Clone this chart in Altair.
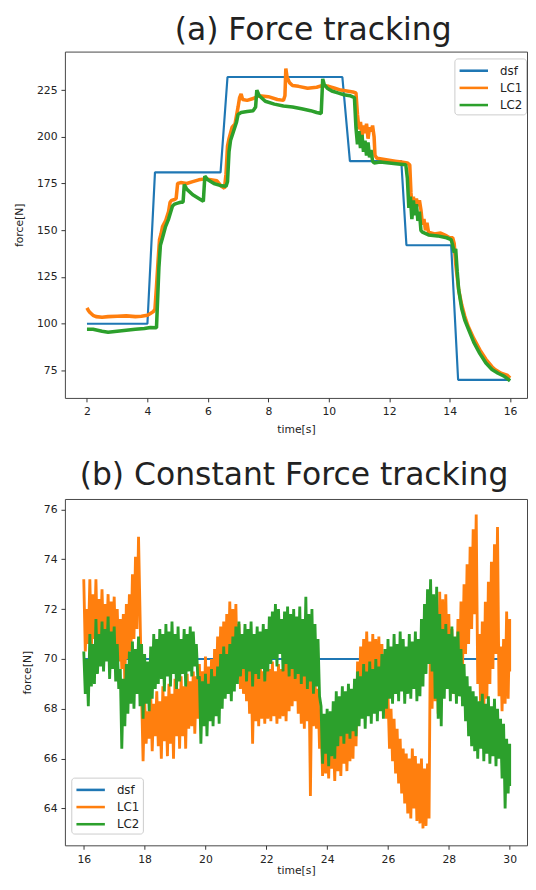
import altair as alt
import pandas as pd

# ---------------- (a) Force tracking ----------------
a_dsf_t = [2.0, 4.0, 4.25, 6.42, 6.65, 10.45, 10.7, 12.4, 12.57, 14.05, 14.28, 16.0]
a_dsf_f = [100, 100, 181, 181, 232, 232, 187, 187, 142, 142, 70, 70]

a_lc1_t = [2.0, 2.05, 2.1, 2.2, 2.3, 2.5, 2.7, 3.0, 3.3, 3.6, 3.8, 4.0, 4.1, 4.2, 4.25, 4.3,
           4.35, 4.4, 4.45, 4.5, 4.6, 4.7, 4.75, 4.8, 4.9, 4.95, 5.0, 5.1, 5.3, 5.5, 5.7, 5.9,
           6.1, 6.3, 6.45, 6.55, 6.6, 6.65, 6.7, 6.8, 6.9, 7.0, 7.05, 7.1, 7.15, 7.3, 7.5, 7.7,
           8.0, 8.3, 8.5, 8.55, 8.58, 8.62, 8.7, 8.8, 9.0, 9.3, 9.6, 9.8, 10.0, 10.2, 10.4, 10.6,
           10.8, 10.9, 10.95, 11.0, 11.05, 11.1, 11.15, 11.2, 11.25, 11.3, 11.35, 11.4, 11.45,
           11.5, 11.53, 11.6, 11.8, 12.0, 12.2, 12.4, 12.6, 12.68, 12.72, 12.76, 12.8, 12.85,
           12.9, 12.95, 13.0, 13.05, 13.1, 13.15, 13.2, 13.25, 13.3, 13.5, 13.7, 13.9, 14.0,
           14.1, 14.15, 14.2, 14.3, 14.4, 14.5, 14.6, 14.8, 15.0, 15.2, 15.4, 15.5, 15.7, 15.9, 16.0]
a_lc1_f = [108.5, 107, 106, 104.5, 103.8, 103.5, 103.8, 104, 104.2, 103.8, 104, 104.5, 105.5, 106.5, 108, 120,
           133, 145, 148, 152, 155, 160, 165, 166, 166.5, 167, 175, 175.5, 175, 176, 177, 177.5,
           177, 176.5, 173.5, 172.5, 180, 195, 199, 205, 207, 216, 221, 223, 220, 219.5, 220.5, 222,
           221.5, 220, 219.5, 222, 236.5, 232, 229, 227.5, 227, 226, 226.5, 227.5, 227, 226, 225, 224.5,
           224, 223.5, 212, 204, 208, 200, 206, 202, 207, 199, 205, 203, 206,
           200, 190, 188.5, 188, 187.5, 187, 186.5, 186, 185, 170, 162, 168, 160,
           167, 163, 166, 161, 153, 156, 150, 154, 149, 148, 148.5, 147, 146,
           146, 143, 132, 118, 110, 104, 99, 92, 86, 81, 77, 75.5, 73.5, 72.5, 71]

a_lc2_t = [2.0, 2.2, 2.5, 2.7, 3.0, 3.3, 3.6, 3.9, 4.1, 4.3, 4.33, 4.38, 4.43, 4.5, 4.6, 4.7,
           4.83, 4.9, 5.0, 5.1, 5.18, 5.22, 5.3, 5.5, 5.7, 5.85, 5.9, 6.0, 6.2, 6.4, 6.6, 6.65,
           6.7, 6.75, 6.85, 6.95, 7.0, 7.1, 7.3, 7.5, 7.58, 7.62, 7.7, 7.9, 8.2, 8.5, 8.8, 9.1,
           9.4, 9.6, 9.75, 9.8, 9.85, 9.95, 10.1, 10.3, 10.5, 10.7, 10.85, 10.9, 10.95, 11.0,
           11.05, 11.1, 11.15, 11.2, 11.25, 11.3, 11.35, 11.4, 11.45, 11.5, 11.7, 12.0, 12.3,
           12.55, 12.6, 12.65, 12.7, 12.75, 12.8, 12.85, 12.9, 12.95, 13.0, 13.05, 13.1, 13.3,
           13.6, 13.9, 14.05, 14.1, 14.15, 14.2, 14.25, 14.3, 14.4, 14.5, 14.6, 14.8, 15.0,
           15.2, 15.4, 15.6, 15.8, 16.0]
a_lc2_f = [97, 97, 96, 95.5, 96, 96.5, 97, 97.5, 98, 97.8, 110, 130, 142, 146, 152, 156,
           163, 164, 164.5, 165, 165, 174.5, 172, 169, 167, 165.5, 179, 177, 175, 174, 173.5, 176,
           192, 198, 203, 208, 212, 213, 213.5, 214, 216, 225, 222, 219, 217.5, 216.5, 216, 215,
           214, 213, 212.5, 231, 228, 226, 224.5, 223.5, 222.5, 222, 221, 205, 196, 203,
           194, 201, 192, 198, 190, 197, 189, 193, 187, 186, 186.5, 186, 185.5,
           185, 178, 162, 168, 156, 166, 158, 164, 155, 160, 150, 149, 147.5,
           147, 146, 145, 142, 138, 140, 128, 118, 108, 102, 98, 90, 84,
           79, 75.5, 73.5, 72, 69.5]

# ---------------- (b) Constant Force tracking ----------------
b_dsf_t = [16.0, 30.0]
b_dsf_f = [70, 70]
b_t = [round(16.0 + 0.1 * i, 2) for i in range(141)]
b_lc1_hi = [73.2, 72.0, 73.2, 72.6, 73.2, 72.4, 72.8, 72.2, 72.6, 72.3,
            72.5, 72.0, 71.6, 71.8, 72.2, 72.6, 73.4, 74.1, 74.9, 68.6,
            68.4, 67.9, 68.6, 68.2, 68.7, 68.3, 68.9, 68.5, 69.0, 68.6,
            69.2, 68.8, 69.3, 68.9, 69.4, 69.1, 69.5, 69.3, 69.8, 69.5,
            70.1, 69.7, 70.0, 70.4, 70.9, 71.3, 71.5, 71.8, 72.3, 72.0,
            72.2, 71.4, 71.0, 70.6, 70.2, 70.0, 69.8, 69.6, 69.9, 69.5,
            69.8, 69.6, 69.9, 69.5, 69.8, 69.6, 69.9, 70.2, 70.4, 70.6,
            70.5, 70.2, 69.9, 70.3, 69.8, 69.8, 69.2, 68.8, 67.5, 67.3,
            67.0, 67.4, 67.1, 67.5, 67.2, 67.6, 67.3, 67.8, 68.2, 69.0,
            69.9, 70.5, 70.8, 71.1, 70.7, 71.0, 70.8, 70.9, 70.6, 69.8,
            68.5, 68.0, 67.6, 67.2, 66.8, 66.4, 66.2, 66.0, 66.4, 66.1,
            65.8, 66.0, 65.6, 65.8, 72.2, 72.0, 71.6, 72.7, 72.4, 72.6,
            71.8, 71.2, 70.8, 71.6, 72.3, 73.0, 73.8, 74.5, 75.2, 75.8,
            71.0, 71.5, 72.3, 73.1, 73.9, 74.6, 75.3, 70.5, 70.8, 71.9,
            71.6]
b_lc1_lo = [70.3, 70.6, 70.4, 70.8, 70.5, 70.9, 70.6, 70.8, 70.4, 70.7,
            70.2, 69.9, 69.6, 69.0, 70.0, 70.3, 70.8, 71.2, 71.8, 65.9,
            66.6, 66.8, 66.3, 66.9, 66.5, 66.0, 66.7, 66.1, 66.6, 66.0,
            66.9, 66.4, 66.9, 66.4, 67.2, 67.3, 67.0, 67.6, 67.4, 67.8,
            67.6, 68.0, 67.7, 68.3, 68.8, 69.2, 69.0, 69.5, 69.3, 69.6,
            69.2, 68.8, 68.6, 68.3, 67.8, 66.6, 67.5, 67.3, 67.6, 67.4,
            67.6, 67.5, 67.7, 67.4, 67.6, 67.7, 67.5, 67.9, 68.1, 68.3,
            67.8, 67.4, 67.2, 67.5, 64.5, 67.3, 67.2, 66.4, 65.3, 65.4,
            65.2, 65.6, 65.1, 65.5, 65.3, 65.8, 65.5, 65.9, 66.0, 66.5,
            67.8, 68.2, 68.5, 68.7, 68.4, 68.6, 68.3, 68.5, 68.2, 67.6,
            66.4, 65.9, 65.4, 65.0, 64.6, 64.2, 63.8, 63.6, 64.0, 63.5,
            63.4, 63.2, 63.3, 63.6, 68.0, 68.3, 67.8, 68.5, 68.8, 69.3,
            68.9, 68.6, 68.4, 69.0, 69.6, 70.2, 70.6, 71.2, 71.8, 69.0,
            67.6, 67.8, 68.4, 69.0, 69.6, 70.2, 68.5, 67.9, 68.2, 68.4,
            69.5]
b_lc2_hi = [70.3, 70.0, 71.0, 70.6, 71.6, 71.0, 71.5, 71.2, 71.7, 71.1,
            71.3, 70.6, 69.6, 69.2, 69.8, 70.3, 70.7, 70.4, 70.9, 70.6,
            70.2, 69.9, 70.5, 71.0, 70.8, 71.2, 71.0, 71.4, 71.1, 71.5,
            71.0, 71.3, 70.8, 71.2, 71.0, 71.3, 71.1, 70.6, 69.3, 69.1,
            69.4, 69.0, 69.6, 69.3, 69.7, 70.2, 70.5, 70.2, 70.6, 70.9,
            71.3, 71.5, 71.0, 71.4, 71.2, 71.5, 71.0, 71.3, 71.1, 71.4,
            71.2, 71.7, 71.9, 72.2, 72.0, 71.6, 71.9, 72.1, 71.8, 72.0,
            71.7, 72.1, 71.6, 72.5, 71.8, 72.0, 71.4, 70.8, 68.1, 67.8,
            68.0, 67.9, 68.3, 68.7, 68.5, 68.9, 68.7, 69.0, 68.8, 69.2,
            69.5, 69.3, 69.8, 69.5, 69.9, 69.6, 70.0, 69.7, 70.2, 70.4,
            70.8, 70.5, 71.0, 70.6, 71.1, 70.8, 70.5, 71.0, 70.7, 71.1,
            70.8, 71.6, 72.2, 72.8, 73.2, 72.6, 72.9, 71.8, 71.2, 71.4,
            71.0, 71.3, 70.9, 71.1, 70.4, 69.8, 69.3, 68.9, 68.7, 68.5,
            68.3, 68.6, 68.2, 68.5, 68.1, 68.4, 68.0, 67.6, 67.4, 66.8,
            66.6]
b_lc2_lo = [68.6, 68.1, 68.9, 69.0, 69.4, 69.7, 69.5, 69.9, 69.2, 69.6,
            69.1, 68.8, 66.4, 67.3, 67.8, 68.2, 68.0, 68.6, 68.1, 67.6,
            68.2, 67.9, 68.4, 68.8, 69.0, 69.2, 68.7, 69.3, 68.9, 69.4,
            68.8, 69.1, 69.4, 68.9, 69.5, 69.3, 69.7, 69.2, 66.6, 67.3,
            66.9, 67.5, 67.3, 67.7, 67.4, 68.0, 68.4, 68.6, 68.3, 68.7,
            69.0, 69.3, 69.6, 69.1, 69.5, 68.9, 69.4, 69.2, 69.6, 69.1,
            69.5, 69.8, 70.0, 69.7, 70.2, 69.5, 69.8, 69.3, 69.6, 69.2,
            69.4, 69.0, 69.3, 68.8, 69.1, 68.6, 68.9, 68.5, 65.8, 66.2,
            65.7, 66.1, 66.0, 66.5, 66.9, 66.6, 67.0, 66.8, 67.1, 66.9,
            67.3, 67.6, 67.2, 67.7, 67.4, 67.8, 67.5, 67.9, 67.6, 68.0,
            68.4, 68.2, 68.6, 68.3, 68.7, 68.2, 68.6, 68.4, 68.8, 68.3,
            68.5, 68.9, 69.4, 69.8, 69.5, 68.4, 67.6, 67.3, 68.4, 68.8,
            68.3, 68.6, 68.2, 68.5, 68.1, 67.5, 66.9, 66.5, 66.3, 66.0,
            66.4, 65.9, 66.2, 65.8, 66.1, 65.7, 66.0, 65.2, 64.0, 64.6,
            64.9]

series_names = ["dsf", "LC1", "LC2"]
series_colors = ["#1f77b4", "#ff7f0e", "#2ca02c"]
a_xticks = [2, 4, 6, 8, 10, 12, 14, 16]
a_yticks = [75, 100, 125, 150, 175, 200, 225]
b_xticks = [16, 18, 20, 22, 24, 26, 28, 30]
b_yticks = [64, 66, 68, 70, 72, 74, 76]


def frame(ts, fs, name):
    return pd.DataFrame({"t": ts, "f": fs, "s": name, "i": range(len(ts))})


def zigzag(ts, hi, lo, name):
    rows = []
    n = len(ts)
    for k in range(n):
        rows.append((ts[k], hi[k]))
        rows.append((ts[k] + 0.05 if k < n - 1 else ts[k], lo[k]))
    return pd.DataFrame({"t": [r[0] for r in rows], "f": [r[1] for r in rows],
                         "s": name, "i": range(len(rows))})


FONT = "DejaVu Sans"


def panel(dfs, widths, xdom, ydom, xticks, yticks, title, dx, leg_x, leg_y,
          ytitle_pad, xtitle_pad, height, title_offset):
    layers = []
    for df, w in zip(dfs, widths):
        layers.append(
            alt.Chart(df).mark_line(strokeWidth=w, strokeJoin="bevel", strokeCap="butt").encode(
                x=alt.X("t:Q", scale=alt.Scale(domain=xdom, nice=False, zero=False),
                        axis=alt.Axis(values=xticks, title="time[s]", format="d",
                                      titlePadding=xtitle_pad)),
                y=alt.Y("f:Q", scale=alt.Scale(domain=ydom, nice=False, zero=False),
                        axis=alt.Axis(values=yticks, title="force[N]", format="d",
                                      titlePadding=ytitle_pad)),
                color=alt.Color("s:N", scale=alt.Scale(domain=series_names, range=series_colors),
                                legend=alt.Legend(orient="none", legendX=leg_x, legendY=leg_y,
                                                  title=None,
                                                  symbolType="M-1,0H3", symbolSize=210,
                                                  symbolStrokeWidth=2.6, labelOffset=25,
                                                  labelFontSize=12, labelFont=FONT,
                                                  labelColor="#222222",
                                                  strokeColor="#cccccc",
                                                  fillColor="rgba(255,255,255,0.8)",
                                                  padding=3.5, cornerRadius=3, rowPadding=2.5)),
                order="i:Q",
            )
        )
    return alt.layer(*layers).properties(
        width=471, height=height,
        title=alt.TitleParams(title, fontSize=32, font="DejaVu Sans", fontWeight="normal",
                              color="#222222", dx=dx, offset=title_offset, anchor="middle"),
    )


top = panel(
    [frame(a_dsf_t, a_dsf_f, "dsf"), frame(a_lc1_t, a_lc1_f, "LC1"), frame(a_lc2_t, a_lc2_f, "LC2")],
    [2.2, 3.6, 3.6], [1.27, 16.56], [60.3, 245.6], a_xticks, a_yticks,
    "(a) Force tracking", 17.5, 397, 7, 12, 7, 353, 5,
)
bottom = panel(
    [frame(b_dsf_t, b_dsf_f, "dsf"), zigzag(b_t, b_lc1_hi, b_lc1_lo, "LC1"),
     zigzag(b_t, b_lc2_hi, b_lc2_lo, "LC2")],
    [2.2, 2.9, 2.9], [15.38, 30.57], [62.52, 76.42], b_xticks, b_yticks,
    "(b) Constant Force tracking", -2, 6.5, 284, 11, 1, 353, 7,
)

chart = alt.vconcat(top, bottom, spacing=24).resolve_scale(
    color="independent").resolve_legend(color="independent").properties(
    padding={"left": 5, "top": -3, "right": 0, "bottom": 0}
).configure_view(stroke="#444444", strokeWidth=1).configure_axis(
    grid=False, domain=False, tickColor="#333333", tickSize=4, tickWidth=1,
    labelFont=FONT, labelFontSize=11, labelColor="#222222", labelPadding=4,
    titleFont=FONT, titleFontSize=11, titleFontWeight="normal", titleColor="#222222",
)

chart.save("out.html", embed_options={"renderer": "svg", "actions": False})
